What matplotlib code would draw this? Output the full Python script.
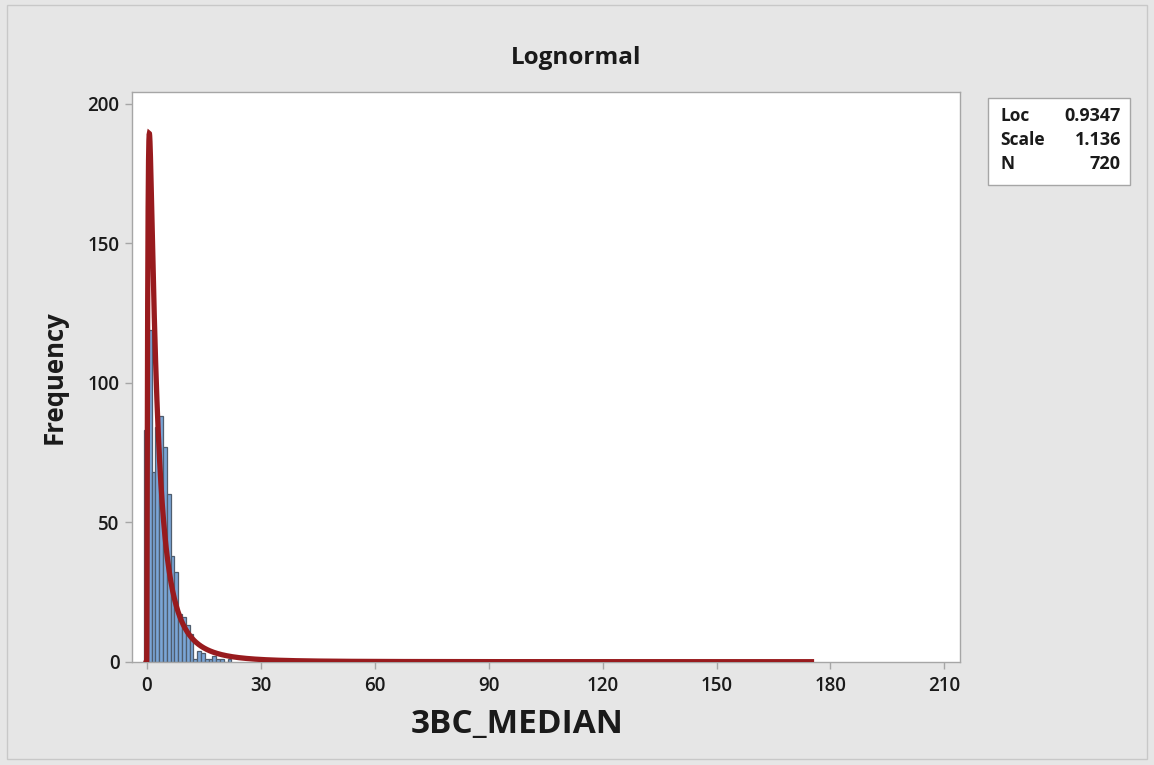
import numpy as np
import matplotlib
matplotlib.use("Agg")
import matplotlib.pyplot as plt
from matplotlib.patches import Rectangle

# ---- data ----
title = "Lognormal"
xlabel = "3BC_MEDIAN"
ylabel = "Frequency"
bin_start = -0.7
bin_width = 1.0
counts = [83, 119, 68, 84, 88, 77, 60, 38, 32, 17, 16, 13, 10, 1, 4, 3, 1, 1, 2, 1, 1, 0, 1]
fit_loc = 0.9347
fit_scale = 1.136
n_obs = 720
curve_end = 175
xticks = [0, 30, 60, 90, 120, 150, 180, 210]
yticks = [0, 50, 100, 150, 200]

plt.rcParams['font.family'] = ['Open Sans', 'DejaVu Sans']

fig = plt.figure(figsize=(11.54, 7.65), dpi=100)
fig.patch.set_facecolor('#e6e6e6')
fig.patches.append(Rectangle((7/1154, 6/765), 1140/1154, 754/765, transform=fig.transFigure,
                             fill=False, edgecolor='#c8c8c8', linewidth=1))

ax = fig.add_axes([132/1154, (765-661.7)/765, (960-132)/1154, (661.7-92)/765])
ax.set_facecolor('white')

edges = bin_start + bin_width*np.arange(len(counts))
ax.bar(edges, counts, width=bin_width, align='edge', color='#7aa5d6',
       edgecolor='#4f5d6e', linewidth=0.9, zorder=2)

# fitted lognormal density scaled to counts
x = np.concatenate([np.linspace(1e-4, 2, 600), np.linspace(2, curve_end, 1500)])
pdf = np.exp(-(np.log(x) - fit_loc)**2/(2*fit_scale**2))/(x*fit_scale*np.sqrt(2*np.pi))
y = pdf*n_obs*bin_width
x = np.concatenate([[0], x])
y = np.concatenate([[0], y])
ax.plot(x, y, color='#981b1e', linewidth=3.8, zorder=3, solid_joinstyle='miter')

ax.set_xlim(-3.87, 214.1)
ax.set_ylim(0, 204.2)
ax.set_xticks(xticks)
ax.set_yticks(yticks)
for s in ax.spines.values():
    s.set_color('#a6a6a6')
    s.set_linewidth(1)
ax.tick_params(axis='both', colors='#a6a6a6', labelcolor='#1a1a1a', labelsize=13.5,
               length=5, width=1, direction='out')
ax.tick_params(axis='y', pad=4)
ax.tick_params(axis='x', pad=5)
for lab in ax.get_xticklabels() + ax.get_yticklabels():
    lab.set_fontweight('semibold')

ax.set_ylabel(ylabel, fontsize=18.5, fontweight='bold', color='#1a1a1a', labelpad=14)
fig.text(517/1154, 1-724/765, xlabel, ha='center', va='center', fontsize=24,
         fontweight='bold', color='#1a1a1a')
fig.text(576/1154, 1-58/765, title, ha='center', va='center', fontsize=17.5,
         fontweight='bold', color='#1a1a1a')

# stats box
fig.patches.append(Rectangle((988/1154, 1-185/765), 142/1154, 87/765, transform=fig.transFigure,
                             facecolor='white', edgecolor='#a6a6a6', linewidth=1))
rows = [("Loc", "0.9347"), ("Scale", "1.136"), ("N", str(n_obs))]
for i, (k, v) in enumerate(rows):
    yy = 1 - (116 + i*24)/765
    fig.text(1000/1154, yy, k, ha='left', va='center', fontsize=12.5, fontweight='bold', color='#1a1a1a')
    fig.text(1121/1154, yy, v, ha='right', va='center', fontsize=13, fontweight='bold', color='#1a1a1a')

fig.savefig('out.png', dpi=100, facecolor=fig.get_facecolor())
